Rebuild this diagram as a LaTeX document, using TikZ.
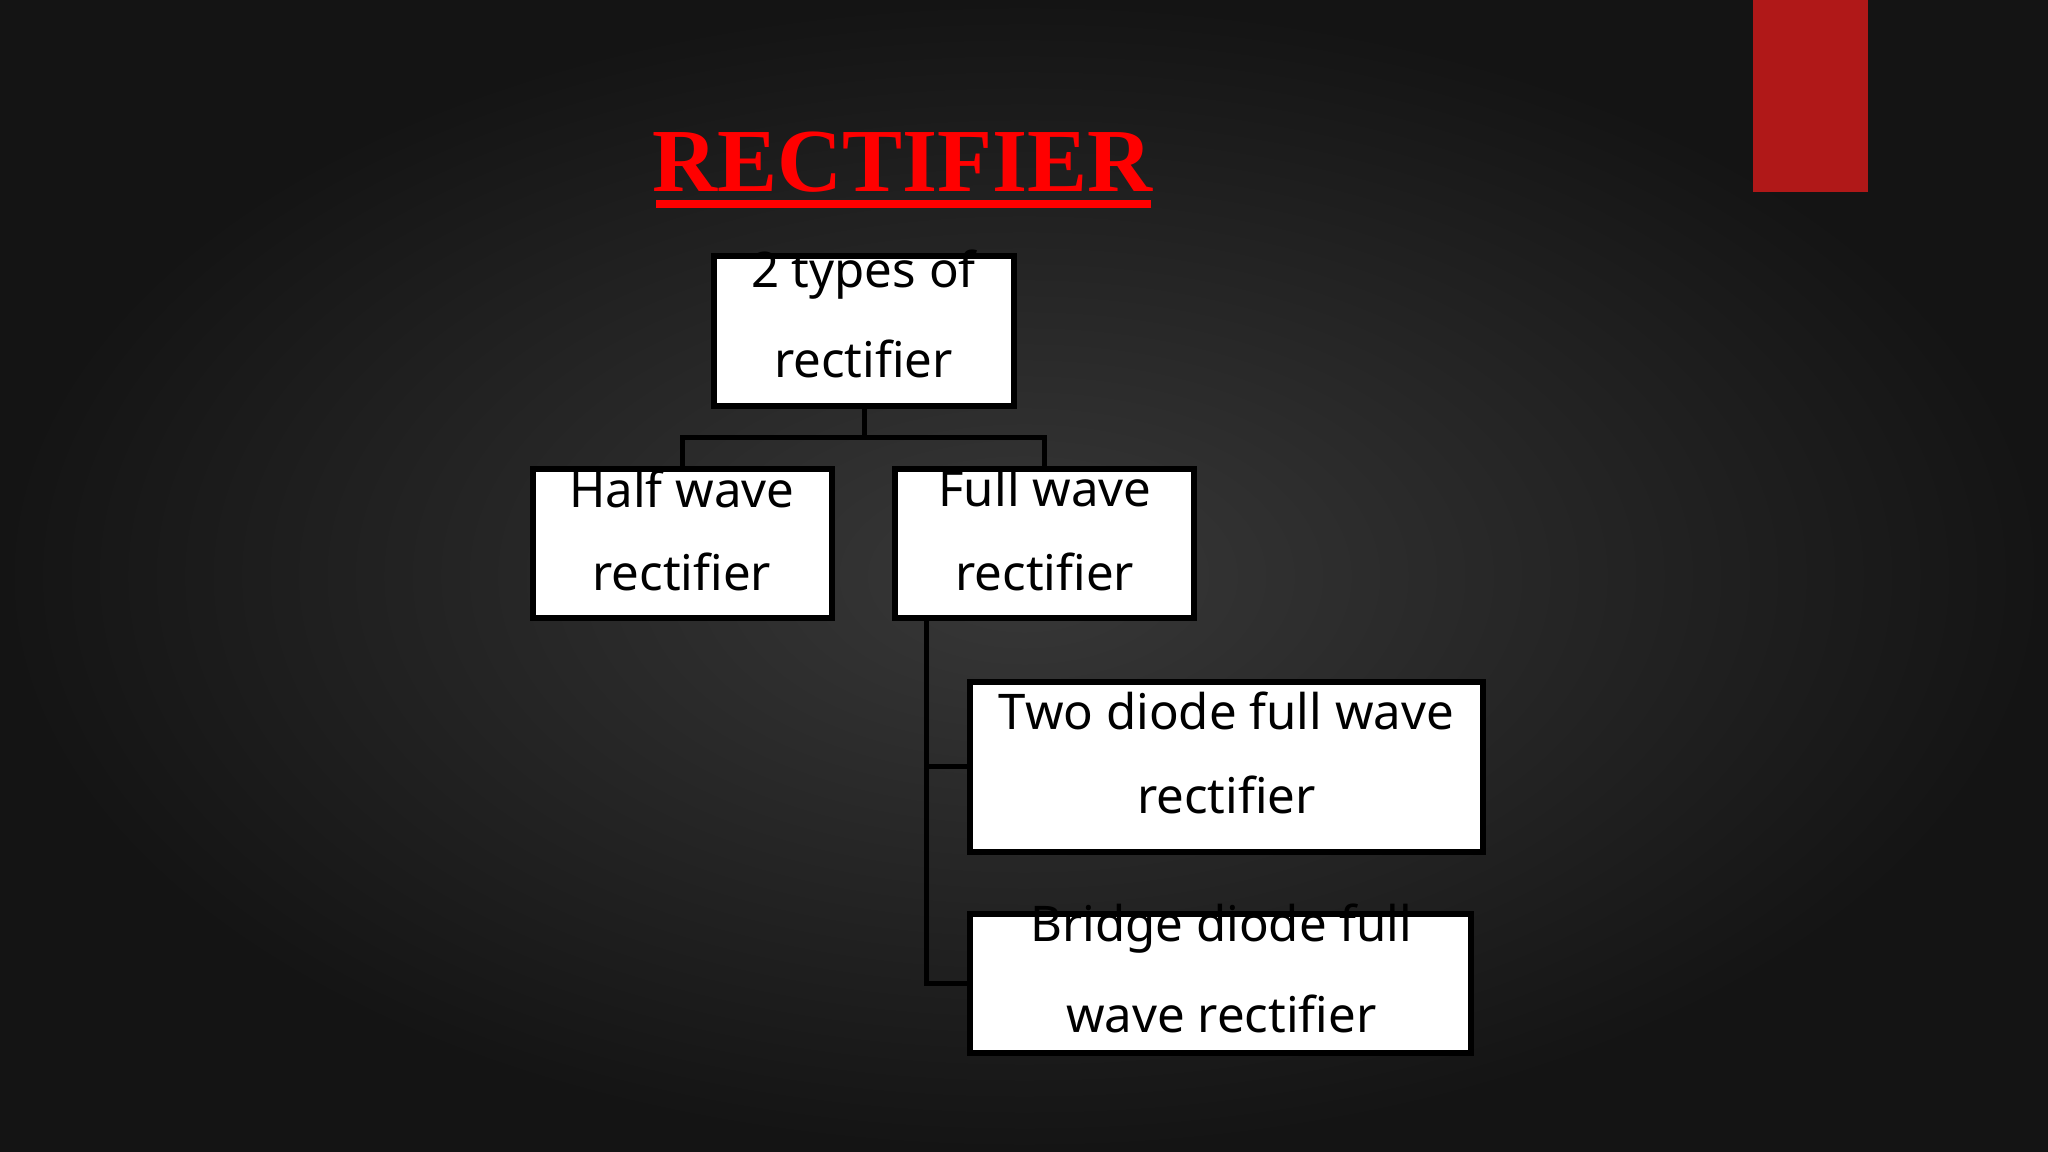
\documentclass[tikz,border=0pt]{standalone}
\usepackage{fontspec}
\setmainfont{Noto Sans}
\newfontfamily\titlefont{Liberation Serif}
\definecolor{bgin}{HTML}{383838}
\definecolor{bgout}{HTML}{141414}
\definecolor{tabred}{HTML}{B01818}
\tikzset{
  box/.style={draw=black,fill=white,line width=1.3pt,anchor=north west,inner sep=0pt,outer sep=0pt},
  txt/.style={font=\fontsize{10.7}{13}\selectfont,text=black,inner sep=0pt},
  link/.style={draw=black,line width=1.1pt}
}
\begin{document}
\begin{tikzpicture}[x=0.01cm,y=-0.01cm]
\useasboundingbox (0,0) rectangle (1568,882);
\shade[inner color=bgin,outer color=bgout] (0,0) rectangle (1568,882);
\fill[tabred] (1342,0) rectangle (1430,147);
\node[text=red,font=\titlefont\bfseries\fontsize{19.6}{22}\selectfont,inner sep=0pt] (title) at (691,124) {RECTIFIER};
\fill[red] (502,153) rectangle (881,159);
% boxes
\node[box,minimum width=2.29cm,minimum height=1.15cm] (top) at (547,196) {};
\node[box,minimum width=2.29cm,minimum height=1.14cm] (half) at (408,359) {};
\node[box,minimum width=2.29cm,minimum height=1.14cm] (full) at (685,359) {};
\node[box,minimum width=3.92cm,minimum height=1.30cm] (two) at (743,522) {};
\node[box,minimum width=3.83cm,minimum height=1.06cm] (bridge) at (743,700) {};
% texts
\node[txt] (t1) at (661,210) {2 types of};
\node[txt] (t2) at (661,275) {rectifier};
\node[txt] (h1) at (522,374) {Half wave};
\node[txt] (h2) at (522,438) {rectifier};
\node[txt] (f1) at (800,374) {Full wave};
\node[txt] (f2) at (800,438) {rectifier};
\node[txt] (w1) at (939,544) {Two diode full wave};
\node[txt] (w2) at (939,609) {rectifier};
\node[txt] (b1) at (935,711) {Bridge diode full};
\node[txt] (b2) at (935,776) {wave rectifier};
% connectors
\coordinate (j) at (top.south |- 0,335);
\draw[link] (top.south) -- (j);
\draw[link] (j) -| (half.north);
\draw[link] (j) -| (full.north);
\coordinate (fd) at (709,473);
\coordinate (fe) at (bridge.west -| fd);
\coordinate (fm) at (two.west -| fd);
\draw[link] (fd) -- (fe) -- (bridge.west);
\draw[link] (fm) -- (two.west);
\end{tikzpicture}
\end{document}
